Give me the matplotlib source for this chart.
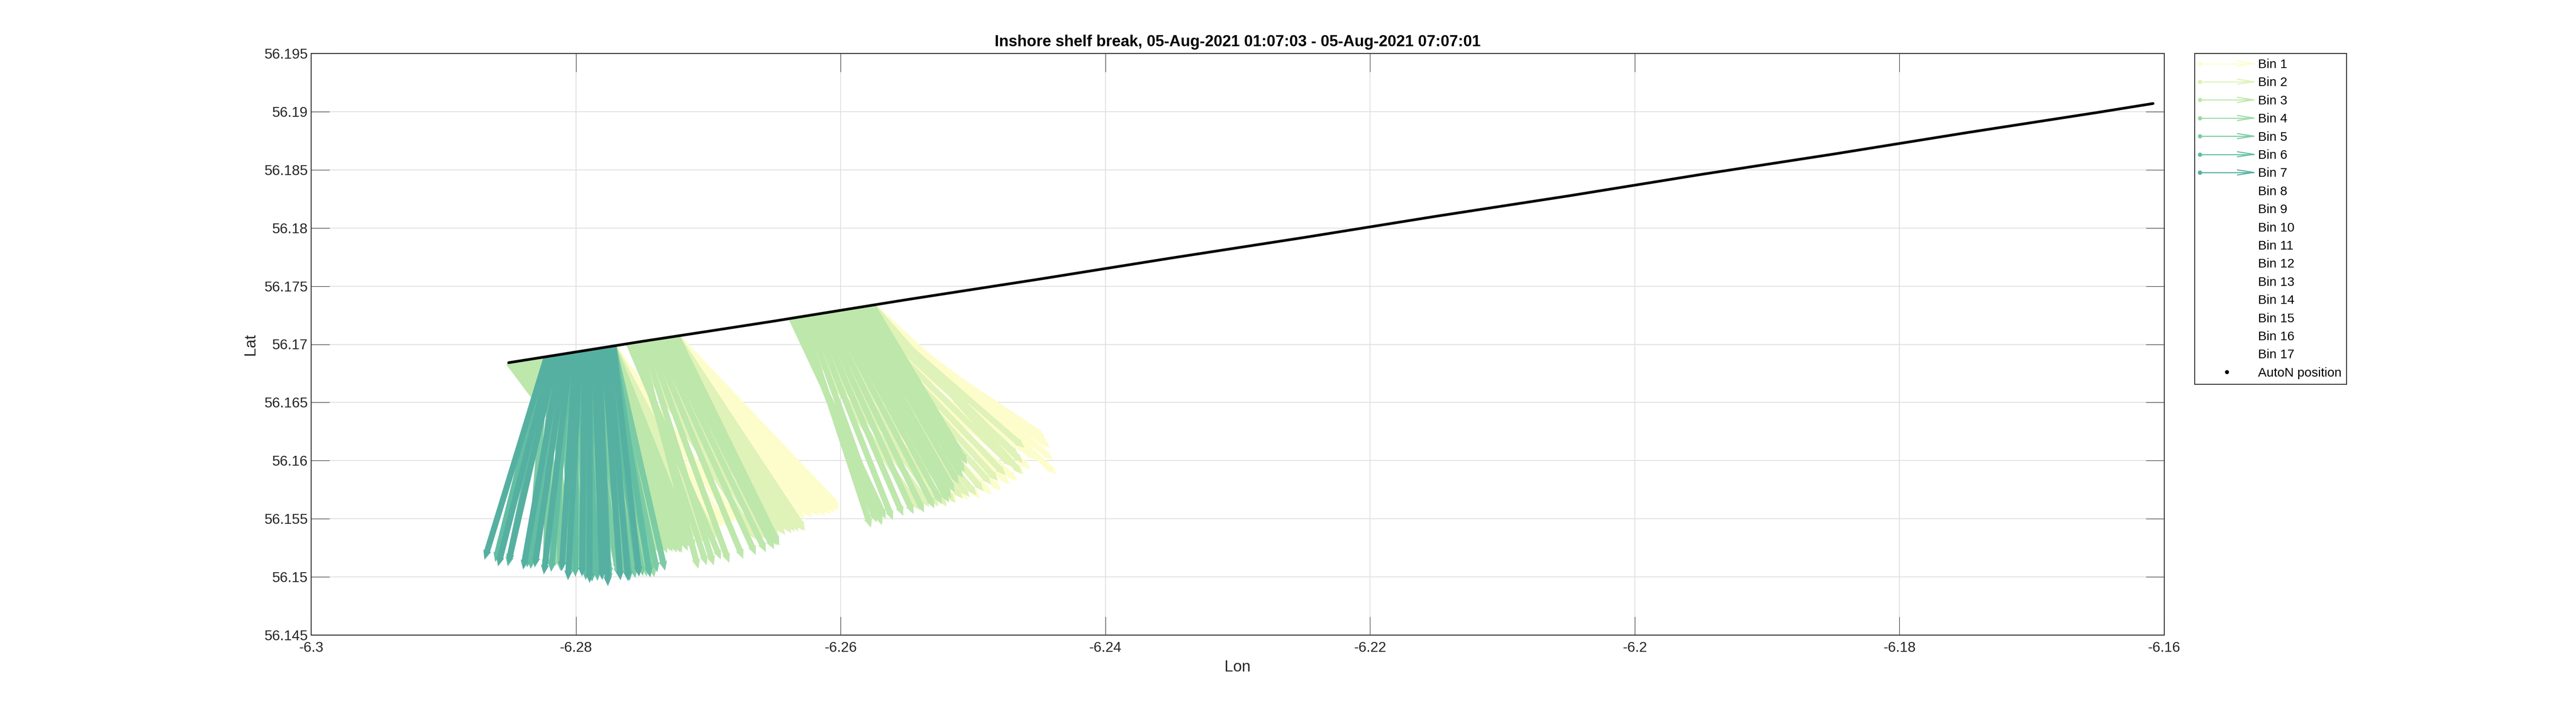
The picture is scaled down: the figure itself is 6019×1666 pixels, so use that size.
import numpy as np
import matplotlib
matplotlib.use("Agg")
import matplotlib.pyplot as plt
from matplotlib.lines import Line2D
from matplotlib.legend_handler import HandlerBase

plt.rcParams['font.family'] = ['Liberation Sans', 'DejaVu Sans']

title = "Inshore shelf break, 05-Aug-2021 01:07:03 - 05-Aug-2021 07:07:01"
bin_labels = ["Bin %d" % i for i in range(1, 18)]
bin_colors = ['#fdfdcb', '#dff2b8', '#bde7ab', '#9ad9a6', '#7bcba4', '#62bea3', '#55b0a1']

# AutoN track (lon / lat)
track_lon = [-6.28508, -6.2800, -6.2750, -6.2700, -6.2650, -6.2550, -6.2450, -6.2350, -6.2250,
             -6.2150, -6.2050, -6.1950, -6.1850, -6.1750, -6.1650, -6.16085]
track_lat = [56.16842, 56.16934, 56.17025, 56.17112, 56.17200, 56.17384, 56.17560, 56.17742,
             56.17918, 56.18101, 56.18276, 56.18460, 56.18635, 56.18818, 56.18994, 56.19070]

nan = np.nan

# ---- ping group A (western end of the track) ----
lon_A = [-6.28508, -6.28472, -6.28436, -6.28400, -6.28364, -6.28328, -6.28292, -6.28256,
         -6.28220, -6.28184, -6.28148, -6.28112, -6.28076, -6.28040, -6.28004, -6.27968,
         -6.27932, -6.27896, -6.27860, -6.27824, -6.27788, -6.27752, -6.27716]
lat_A = [56.16842, 56.16848, 56.16855, 56.16861, 56.16868, 56.16874, 56.16881, 56.16887,
         56.16894, 56.16900, 56.16907, 56.16913, 56.16920, 56.16926, 56.16932, 56.16939,
         56.16945, 56.16952, 56.16958, 56.16965, 56.16971, 56.16978, 56.16984]
uA1 = [0.304, 0.296, 0.299, 0.287, 0.286, 0.284, 0.275, 0.273, 0.268, 0.270, 0.262, 0.265,
       0.258, 0.262, 0.255, 0.259, 0.252, 0.256, 0.250, 0.254, 0.251, 0.258, 0.255]
vA1 = [-0.390, -0.396, -0.395, -0.401, -0.400, -0.404, -0.405, -0.411, -0.410, -0.412, -0.415,
       -0.419, -0.418, -0.417, -0.420, -0.424, -0.420, -0.416, -0.420, -0.418, -0.415, -0.409, -0.410]
uA2 = [0.286, 0.281, 0.273, 0.270, 0.264, 0.257, 0.255, 0.252, 0.246, 0.243, 0.239, 0.237,
       0.233, 0.231, 0.227, 0.226, 0.222, 0.221, 0.218, 0.214, 0.215, 0.209, 0.211]
vA2 = [-0.400, -0.406, -0.410, -0.416, -0.418, -0.420, -0.425, -0.429, -0.430, -0.431, -0.435,
       -0.439, -0.440, -0.438, -0.443, -0.446, -0.445, -0.443, -0.448, -0.452, -0.450, -0.447, -0.450]
uA3 = [0.264, 0.259, 0.251, 0.243, 0.238, 0.232, 0.224, 0.219, 0.211, 0.206, 0.202, 0.199,
       0.194, 0.190, 0.189, 0.185, 0.180, 0.179, 0.176, 0.170, 0.172, 0.168, 0.167]
vA3 = [-0.400, -0.412, -0.420, -0.428, -0.435, -0.441, -0.445, -0.449, -0.455, -0.459, -0.460,
       -0.461, -0.465, -0.468, -0.470, -0.466, -0.470, -0.474, -0.475, -0.478, -0.475, -0.470, -0.475]
uA4 = [nan] * 8 + [0.018, 0.032, 0.044, 0.058, 0.070, 0.080, 0.088, 0.093, 0.097, 0.102, 0.106,
                   0.098, 0.088, 0.086, 0.084]
vA4 = [nan] * 8 + [-0.490, -0.495, -0.500, -0.505, -0.510, -0.512, -0.515, -0.518, -0.520, -0.522,
                   -0.525, -0.530, -0.535, -0.538, -0.540]
uA5 = [nan] * 8 + [-0.035, -0.012, 0.009, 0.024, 0.035, 0.045, 0.053, 0.062, 0.070, 0.078, 0.084,
                   0.090, 0.097, 0.100, 0.106]
vA5 = [nan] * 8 + [-0.490, -0.498, -0.505, -0.510, -0.515, -0.520, -0.525, -0.528, -0.530, -0.534,
                   -0.535, -0.532, -0.530, -0.527, -0.525]
uA6 = [nan] * 8 + [-0.106, -0.090, -0.053, -0.070, -0.084, -0.040, 0.000, 0.015, 0.026, 0.005,
                   -0.018, 0.020, 0.053, 0.062, 0.075]
vA6 = [nan] * 8 + [-0.480, -0.492, -0.500, -0.498, -0.495, -0.512, -0.525, -0.530, -0.538, -0.542,
                   -0.540, -0.548, -0.545, -0.536, -0.540]
uA7 = [nan] * 8 + [-0.128, -0.110, -0.099, -0.078, -0.064, -0.055, -0.028, -0.025, -0.006, 0.000,
                   0.016, 0.018, 0.034, 0.040, 0.053]
vA7 = [nan] * 8 + [-0.475, -0.492, -0.488, -0.503, -0.500, -0.518, -0.512, -0.535, -0.528, -0.545,
                   -0.540, -0.556, -0.544, -0.548, -0.538]

# ---- ping group B ----
lon_B = [-6.27599, -6.27563, -6.27527, -6.27491, -6.27455, -6.27419, -6.27383, -6.27347,
         -6.27311, -6.27275, -6.27239]
lat_B = [56.17006, 56.17012, 56.17019, 56.17025, 56.17032, 56.17038, 56.17045, 56.17051,
         56.17058, 56.17064, 56.17071]
uB1 = [0.334, 0.338, 0.343, 0.348, 0.352, 0.355, 0.356, 0.354, 0.352, 0.343, 0.334]
vB1 = [-0.420, -0.417, -0.415, -0.412, -0.410, -0.411, -0.410, -0.407, -0.405, -0.402, -0.400]
uB2 = [0.264, 0.270, 0.273, 0.278, 0.282, 0.285, 0.282, 0.280, 0.277, 0.270, 0.264]
vB2 = [-0.460, -0.458, -0.460, -0.456, -0.455, -0.452, -0.450, -0.451, -0.450, -0.453, -0.455]
uB3 = [0.189, 0.150, 0.123, 0.145, 0.167, 0.186, 0.202, 0.213, 0.220, 0.216, 0.211]
vB3 = [-0.505, -0.520, -0.530, -0.524, -0.520, -0.512, -0.505, -0.500, -0.495, -0.488, -0.490]

# ---- ping group C ----
lon_C = [-6.26372, -6.26334, -6.26296, -6.26257, -6.26219, -6.26181, -6.26143, -6.26105,
         -6.26067, -6.26028, -6.25990, -6.25952, -6.25914, -6.25876, -6.25838, -6.25799, -6.25761]
lat_C = [56.17226, 56.17233, 56.17240, 56.17247, 56.17253, 56.17260, 56.17267, 56.17274,
         56.17281, 56.17288, 56.17295, 56.17301, 56.17308, 56.17315, 56.17322, 56.17329, 56.17336]
uC1 = [0.317, 0.330, 0.343, 0.357, 0.370, 0.379, 0.387, 0.392, 0.396, 0.398, 0.400, 0.398,
       0.396, 0.392, 0.387, 0.382, 0.378]
vC1 = [-0.440, -0.432, -0.430, -0.428, -0.420, -0.413, -0.400, -0.394, -0.380, -0.370, -0.350,
       -0.328, -0.300, -0.318, -0.330, -0.360, -0.395]
uC2 = [0.264, 0.273, 0.282, 0.288, 0.295, 0.300, 0.304, 0.308, 0.312, 0.317, 0.321, 0.326,
       0.330, 0.333, 0.334, 0.320, 0.308]
vC2 = [-0.450, -0.444, -0.445, -0.446, -0.440, -0.432, -0.430, -0.428, -0.420, -0.406, -0.400,
       -0.388, -0.370, -0.348, -0.330, -0.367, -0.395]
uC3 = [0.194, 0.165, 0.143, 0.155, 0.167, 0.178, 0.189, 0.200, 0.211, 0.216, 0.220, 0.214,
       0.211, 0.209, 0.207, 0.200, 0.195]
vC3 = [-0.470, -0.480, -0.494, -0.490, -0.480, -0.472, -0.470, -0.468, -0.460, -0.452, -0.450,
       -0.442, -0.430, -0.412, -0.400, -0.388, -0.372]

nB, nC = len(lon_B), len(lon_C)
ping_lon = lon_A + lon_B + lon_C
ping_lat = lat_A + lat_B + lat_C
u_bins = [uA1 + uB1 + uC1, uA2 + uB2 + uC2, uA3 + uB3 + uC3,
          uA4 + [nan] * (nB + nC), uA5 + [nan] * (nB + nC),
          uA6 + [nan] * (nB + nC), uA7 + [nan] * (nB + nC)]
v_bins = [vA1 + vB1 + vC1, vA2 + vB2 + vC2, vA3 + vB3 + vC3,
          vA4 + [nan] * (nB + nC), vA5 + [nan] * (nB + nC),
          vA6 + [nan] * (nB + nC), vA7 + [nan] * (nB + nC)]
arrow_scale = 0.03676   # degrees per velocity unit

xticks = [-6.3, -6.28, -6.26, -6.24, -6.22, -6.2, -6.18, -6.16]
xticklabels = ['-6.3', '-6.28', '-6.26', '-6.24', '-6.22', '-6.2', '-6.18', '-6.16']
yticks = [56.145, 56.15, 56.155, 56.16, 56.165, 56.17, 56.175, 56.18, 56.185, 56.19, 56.195]
yticklabels = ['56.145', '56.15', '56.155', '56.16', '56.165', '56.17', '56.175', '56.18',
               '56.185', '56.19', '56.195']

W, H = 6019, 1666
DPI = 300
fig = plt.figure(figsize=(W / DPI, H / DPI), dpi=DPI)
ax = fig.add_axes([727 / W, 1 - 1484 / H, (5057 - 727) / W, (1484 - 125) / H])

dark = '#262626'
for b in range(len(u_bins)):
    ax.quiver(ping_lon, ping_lat, u_bins[b], v_bins[b], color=bin_colors[b],
              angles='xy', scale_units='xy', scale=1 / arrow_scale,
              units='dots', width=14, headwidth=1.4, headlength=1.6, headaxislength=1.5,
              zorder=3 + b)

ax.plot(track_lon, track_lat, '-', color='k', lw=1.5, solid_capstyle='round', zorder=30)

ax.set_xlim(-6.3, -6.16)
ax.set_ylim(56.145, 56.195)
ax.set_xticks(xticks)
ax.set_xticklabels(xticklabels)
ax.set_yticks(yticks)
ax.set_yticklabels(yticklabels)
ax.tick_params(direction='in', length=10.3, width=0.25, colors=dark, labelsize=8,
               top=True, right=True, pad=3.5)
ax.tick_params(axis='y', pad=1.8)
for s in ax.spines.values():
    s.set_color(dark)
    s.set_linewidth(0.5)
ax.grid(True, color='#dfdfdf', lw=0.45)
ax.set_axisbelow(True)

ax.set_xlabel('Lon', fontsize=8.8, color=dark, labelpad=3)
ax.set_ylabel('Lat', fontsize=8.8, color=dark, labelpad=3.5)
ax.set_title(title, fontsize=8.8, fontweight='bold', color='k', pad=4)


class ArrowHandler(HandlerBase):
    def create_artists(self, legend, orig_handle, xdescent, ydescent, width, height,
                       fontsize, trans):
        c = orig_handle.get_color()
        y = height / 2 - ydescent
        x0 = -xdescent
        x1 = x0 + width
        line = Line2D([x0, x1], [y, y], color=c, lw=0.6)
        dot = Line2D([x0], [y], marker='o', ms=1.4, color=c, ls='none')
        hl = width * 0.3
        hw = height * 0.28
        head = Line2D([x1 - hl, x1, x1 - hl], [y + hw, y, y - hw], color=c, lw=0.6)
        for a in (line, dot, head):
            a.set_transform(trans)
        return [line, dot, head]


handles = []
hmap = {}
for i, lab in enumerate(bin_labels):
    if i < len(bin_colors):
        h = Line2D([], [], color=bin_colors[i])
        hmap[h] = ArrowHandler()
    else:
        h = Line2D([], [], ls='none')
    handles.append(h)
handles.append(Line2D([], [], marker='.', color='k', ls='none', ms=2.5))
labels = bin_labels + ['AutoN position']

leg = fig.legend(handles, labels, handler_map=hmap, loc='upper left',
                 bbox_to_anchor=(5128 / W, 1 - 125 / H), bbox_transform=fig.transFigure,
                 borderaxespad=0, fontsize=7.2, handlelength=4.2, handletextpad=0.33,
                 borderpad=0.4, labelspacing=0.48, numpoints=1, fancybox=False,
                 frameon=True, edgecolor=dark, framealpha=1)
leg.get_frame().set_linewidth(0.5)

fig.savefig('out.png', dpi=DPI)
